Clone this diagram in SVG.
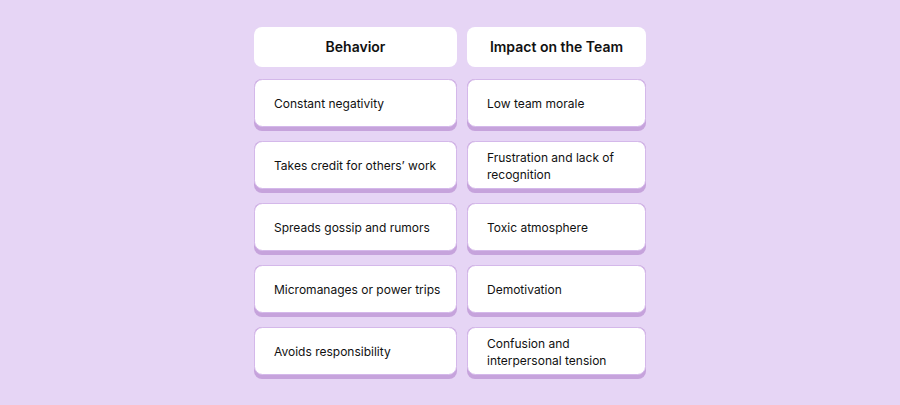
<svg xmlns="http://www.w3.org/2000/svg" width="900" height="405" viewBox="0 0 900 405">
<style>
.h{fill:#fff}
.sh{fill:#c6a3dc}
.c{fill:#fff;stroke:#d4b8ea;stroke-width:1}
.ht{font-family:Inter,"Liberation Sans",sans-serif;font-size:14px;font-weight:600;fill:#111;text-anchor:middle}
.t{font-family:Inter,"Liberation Sans",sans-serif;font-size:12px;fill:#111}
</style>
<rect width="900" height="405" fill="#e6d5f5"/>
<g id="h1"><rect class="h" x="254" y="27" width="203" height="40" rx="8"/><text class="ht" x="355.5" y="52">Behavior</text></g>
<g id="h2"><rect class="h" x="467" y="27" width="179" height="40" rx="8"/><text class="ht" x="556.5" y="52">Impact on the Team</text></g>
<defs>
<g id="L"><rect class="sh" x="254" y="0" width="203" height="52" rx="8"/><rect class="c" x="254.5" y="0.5" width="202" height="47" rx="8"/></g>
<g id="R"><rect class="sh" x="467" y="0" width="179" height="52" rx="8"/><rect class="c" x="467.5" y="0.5" width="178" height="47" rx="8"/></g>
</defs>
<g id="b1"><use href="#L" y="79"/><text class="t" x="274" y="108">Constant negativity</text></g>
<g id="i1"><use href="#R" y="79"/><text class="t" x="487" y="108">Low team morale</text></g>
<g id="b2"><use href="#L" y="141"/><text class="t" x="274" y="170">Takes credit for others’ work</text></g>
<g id="i2"><use href="#R" y="141"/><text class="t" x="487" y="162">Frustration and lack of</text><text class="t" x="487" y="179">recognition</text></g>
<g id="b3"><use href="#L" y="203"/><text class="t" x="274" y="232">Spreads gossip and rumors</text></g>
<g id="i3"><use href="#R" y="203"/><text class="t" x="487" y="232">Toxic atmosphere</text></g>
<g id="b4"><use href="#L" y="265"/><text class="t" x="274" y="294">Micromanages or power trips</text></g>
<g id="i4"><use href="#R" y="265"/><text class="t" x="487" y="294">Demotivation</text></g>
<g id="b5"><use href="#L" y="327"/><text class="t" x="274" y="356">Avoids responsibility</text></g>
<g id="i5"><use href="#R" y="327"/><text class="t" x="487" y="348">Confusion and</text><text class="t" x="487" y="365">interpersonal tension</text></g>
<g id="connectors"/>
</svg>
